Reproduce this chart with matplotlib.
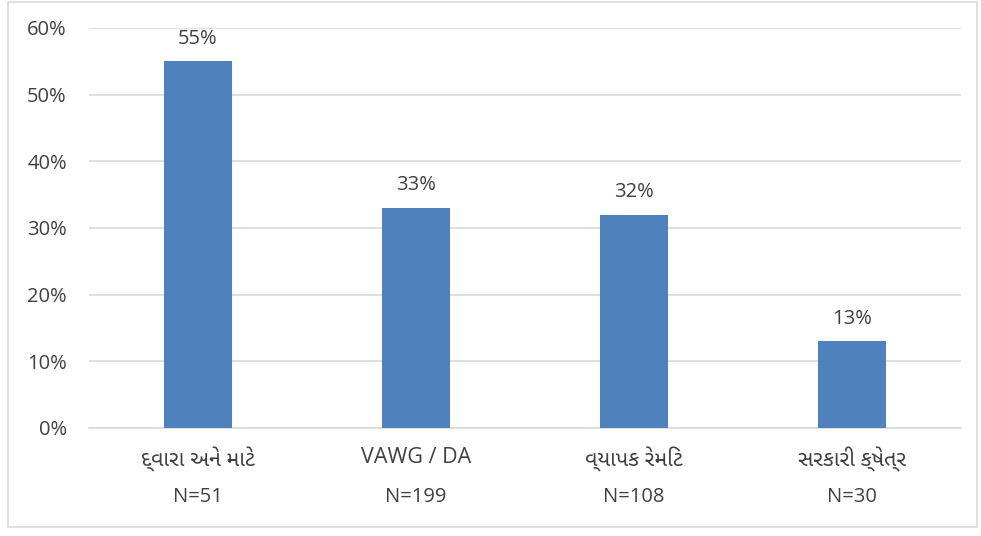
import matplotlib
matplotlib.use("Agg")
import matplotlib.pyplot as plt
from matplotlib import font_manager
from matplotlib.patches import Rectangle
from matplotlib.ticker import FuncFormatter, MultipleLocator

categories = ["દ્વારા અને માટે", "VAWG / DA", "વ્યાપક રેમિટ", "સરકારી ક્ષેત્ર"]
sample_sizes = [51, 199, 108, 30]
shares = [55, 33, 32, 13]

# Latin text in Open Sans, Gujarati falls back to a regular-weight Gujarati font
guj = [f for f in font_manager.fontManager.ttflist if "Gujarati" in f.name]
guj.sort(key=lambda f: (abs((f.weight if isinstance(f.weight, int) else 400) - 400),
                        "UI" in f.name))
plt.rcParams["font.family"] = ["Open Sans"] + [f.name for f in guj[:1]] + ["DejaVu Sans"]

text_col = "#404040"
bar_col = "#4f81bd"
grid_col = "#d9d9d9"
fs = 14.5

fig = plt.figure(figsize=(9.81, 5.36), dpi=100)
ax = fig.add_axes([0.0907, 0.2015, 0.8889, 0.7463])

x = list(range(len(categories)))
ax.bar(x, shares, width=0.31, color=bar_col, zorder=3)
for xi, v in zip(x, shares):
    ax.annotate(f"{v}%", (xi, v), xytext=(0, 9), textcoords="offset points",
                ha="center", va="bottom", fontsize=fs, color=text_col)

ax.set_xlim(-0.5, len(categories) - 0.5)
ax.set_ylim(0, 60)
ax.yaxis.set_major_locator(MultipleLocator(10))
ax.yaxis.set_major_formatter(FuncFormatter(lambda v, p: f"{v:.0f}%"))
ax.grid(axis="y", color=grid_col, linewidth=1.2, zorder=0)
for s in ["top", "right", "left"]:
    ax.spines[s].set_visible(False)
ax.spines["bottom"].set_color(grid_col)
ax.spines["bottom"].set_linewidth(1.2)
ax.tick_params(axis="y", length=0, pad=16, labelsize=fs, labelcolor=text_col)
ax.tick_params(axis="x", length=0, pad=14, labelsize=15.5, labelcolor=text_col)
ax.set_xticks(x)
ax.set_xticklabels(categories, fontweight="normal")

# sample sizes under each category name
for xi, n in zip(x, sample_sizes):
    ax.annotate(f"N={n}", (xi, 0), xycoords=("data", "axes fraction"),
                xytext=(0, -50), textcoords="offset points",
                ha="center", va="center", fontsize=fs, color=text_col)

fig.patches.append(Rectangle((8 / 981, 1 - 527 / 536), 969 / 981, 525 / 536,
                             transform=fig.transFigure, fill=False,
                             edgecolor="#d9d9d9", linewidth=1.2))

fig.savefig("out.png", dpi=100)
